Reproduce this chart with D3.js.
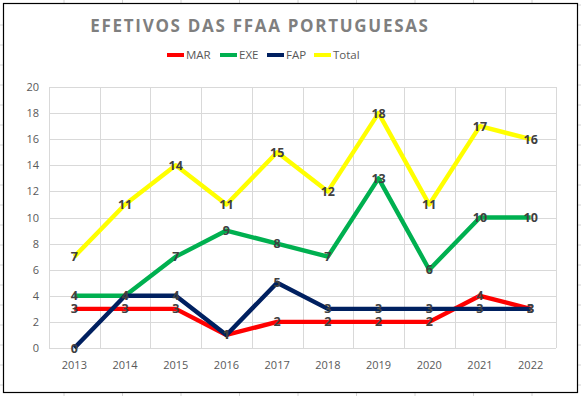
<!DOCTYPE html>
<html>
<head>
<meta charset="utf-8">
<script src="https://cdn.jsdelivr.net/npm/d3@7"></script>
<style>
  body { margin: 0; background: #fff; }
  svg { display: block; }
  text { font-family: "Open Sans", "Liberation Sans", sans-serif; }
</style>
</head>
<body>
<svg id="chart" width="581" height="396"></svg>
<script>
// chart data
const years = ["2013", "2014", "2015", "2016", "2017", "2018", "2019", "2020", "2021", "2022"]
const mar = [3, 3, 3, 1, 2, 2, 2, 2, 4, 3]
const exe = [4, 4, 7, 9, 8, 7, 13, 6, 10, 10]
const fap = [0, 4, 4, 1, 5, 3, 3, 3, 3, 3]
const total = [7, 11, 14, 11, 15, 12, 18, 11, 17, 16]
const yTicks = [0, 2, 4, 6, 8, 10, 12, 14, 16, 18, 20]

const series = [
  { name: "MAR", values: mar, color: "#ff0000" },
  { name: "EXE", values: exe, color: "#00b050" },
  { name: "FAP", values: fap, color: "#002060" },
  { name: "Total", values: total, color: "#ffff00" }
]

const svg = d3.select("#chart")

// spreadsheet cell lines behind the chart object
const sheet = svg.append("g").attr("stroke", "#d4d4d4").attr("stroke-width", 1)
d3.range(10).forEach(i => {
  const x = 64 + i * 58.5
  sheet.append("line").attr("x1", x).attr("x2", x).attr("y1", 0).attr("y2", 3)
  sheet.append("line").attr("x1", x).attr("x2", x).attr("y1", 393).attr("y2", 396)
})
d3.range(20).forEach(i => {
  const y = 5 + i * 20
  sheet.append("line").attr("x1", 578).attr("x2", 581).attr("y1", y).attr("y2", y)
  sheet.append("line").attr("x1", 0).attr("x2", 3).attr("y1", y + 20).attr("y2", y + 20)
})

// chart frame
svg.append("rect")
  .attr("x", 3.5).attr("y", 3.5)
  .attr("width", 574).attr("height", 389)
  .attr("fill", "#fff")
  .attr("stroke", "#000").attr("stroke-width", 1.2)

const margin = {top: 87, right: 25, bottom: 48, left: 49}
const width = 581 - margin.left - margin.right
const height = 396 - margin.top - margin.bottom

const xScale = d3.scaleBand().domain(years).range([0, width])
const yScale = d3.scaleLinear().domain([0, 20]).range([height, 0])

const g = svg.append("g")
  .attr("transform", "translate(" + margin.left + "," + margin.top + ")")

// horizontal gridlines
g.append("g")
  .call(d3.axisLeft(yScale).tickValues(yTicks).tickSize(-width).tickFormat(""))
  .call(a => a.select(".domain").remove())
  .selectAll("line").attr("stroke", "#d9d9d9").attr("shape-rendering", "crispEdges")

// vertical gridlines between categories
const edges = years.map(d => xScale(d)).concat([width])
g.append("g").selectAll("line")
  .data(edges)
  .enter().append("line")
  .attr("x1", d => Math.round(d) + 0.5).attr("x2", d => Math.round(d) + 0.5)
  .attr("y1", 0).attr("y2", height)
  .attr("stroke", "#d9d9d9")

// y axis labels
const yAxis = g.append("g")
  .call(d3.axisLeft(yScale).tickValues(yTicks).tickSize(0).tickPadding(10))
yAxis.select(".domain").remove()
yAxis.selectAll("text")
  .attr("fill", "#595959")
  .style("font-size", "11px")

// x axis labels
const xAxis = g.append("g")
  .attr("transform", "translate(0," + height + ")")
  .call(d3.axisBottom(xScale).tickSize(0).tickPadding(13))
xAxis.select(".domain").remove()
xAxis.selectAll("text")
  .attr("fill", "#595959")
  .style("font-size", "11px")

const line = d3.line()
  .x((d, i) => xScale(years[i]) + xScale.bandwidth() / 2)
  .y(d => yScale(d))

series.forEach(s => {
  g.append("path")
    .datum(s.values)
    .attr("fill", "none")
    .attr("stroke", s.color)
    .attr("stroke-width", 4.4)
    .attr("stroke-linejoin", "round")
    .attr("d", line)
})

// data labels centred on points
series.forEach(s => {
  g.append("g").selectAll("text")
    .data(s.values)
    .enter().append("text")
    .attr("x", (d, i) => xScale(years[i]) + xScale.bandwidth() / 2)
    .attr("y", d => yScale(d))
    .attr("dy", "0.36em")
    .attr("text-anchor", "middle")
    .attr("fill", "#404040")
    .style("font-size", "12.5px")
    .style("font-weight", "bold")
    .text(d => d)
})

// title
svg.append("text")
  .attr("x", 260).attr("y", 32)
  .attr("text-anchor", "middle")
  .attr("fill", "#7f7f7f")
  .style("font-size", "17px")
  .style("font-weight", "bold")
  .style("letter-spacing", "1.7px")
  .text("EFETIVOS DAS FFAA PORTUGUESAS")

// legend
const legendX = [167, 220, 267, 314]
const legend = svg.append("g")
series.forEach((s, i) => {
  legend.append("line")
    .attr("x1", legendX[i]).attr("x2", legendX[i] + 17)
    .attr("y1", 55).attr("y2", 55)
    .attr("stroke", s.color).attr("stroke-width", 4)
  legend.append("text")
    .attr("x", legendX[i] + 19).attr("y", 55)
    .attr("dy", "0.35em")
    .attr("fill", "#595959")
    .style("font-size", "11.5px")
    .text(s.name)
})
</script>
</body>
</html>
